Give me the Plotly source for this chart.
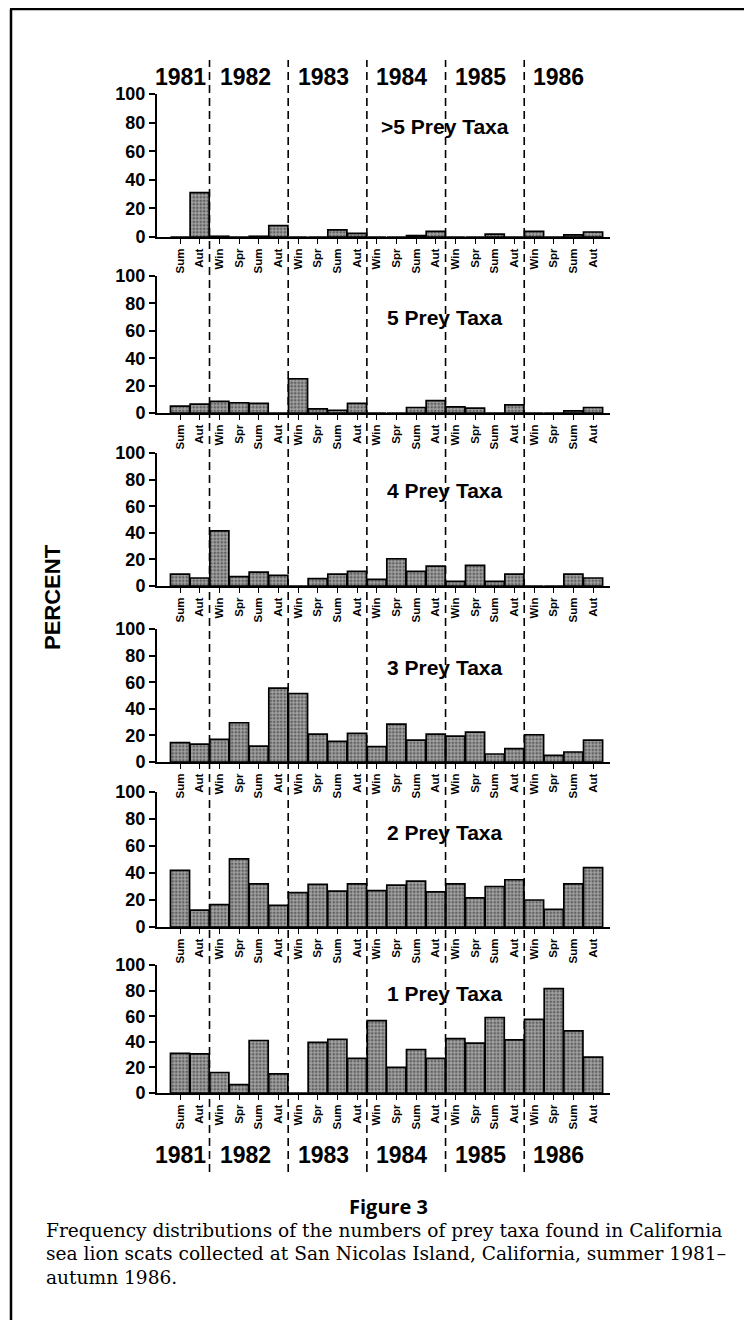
import plotly.graph_objects as go

W, H = 752, 1320

seasons = ["Sum", "Aut",
           "Win", "Spr", "Sum", "Aut",
           "Win", "Spr", "Sum", "Aut",
           "Win", "Spr", "Sum", "Aut",
           "Win", "Spr", "Sum", "Aut",
           "Win", "Spr", "Sum", "Aut"]
years = ["1981", "1982", "1983", "1984", "1985", "1986"]
panel_titles = [">5 Prey Taxa", "5 Prey Taxa", "4 Prey Taxa",
                "3 Prey Taxa", "2 Prey Taxa", "1 Prey Taxa"]

taxa_gt5 = [0, 31, 0.5, 0, 0.5, 8, 0, 0, 5, 2.5, 0, 0, 1, 4, 0, 0, 2, 0, 4, 0, 1.5, 3.5]
taxa_5 = [5, 6.5, 8.5, 7.5, 7, 0, 25, 3, 2, 7, 0, 0, 4, 9, 4.5, 3.5, 0, 6, 0, 0, 1.5, 4]
taxa_4 = [9, 6, 41.5, 7, 10.5, 8, 0, 5.5, 9, 11, 5, 20.5, 11, 15, 3.5, 15.5, 3.5, 9, 0, 0, 9, 6]
taxa_3 = [14.5, 13.5, 17, 29.5, 12, 55.5, 51.5, 21, 15.5, 21.5, 11.5, 28.5, 16.5, 21,
          19.5, 22.5, 6, 10, 20.5, 5, 7.5, 16.5]
taxa_2 = [42, 12.5, 16.5, 50.5, 32, 16, 25.5, 31.5, 26.5, 32, 27, 31, 34, 26,
          32, 21.5, 30, 35, 20, 13, 32, 44]
taxa_1 = [31, 30.5, 16, 6.5, 41, 15, 0, 39.5, 42, 27, 56.5, 20, 34, 27,
          42.5, 39, 59, 41.5, 57.5, 81.5, 48.5, 28]

series = [taxa_gt5, taxa_5, taxa_4, taxa_3, taxa_2, taxa_1]

# ---- layout geometry (target screen pixels) ----
X_OFF = 8.0                   # page body offset
Y_OFF, Y_SPAN = 8.0, 1320.0


def px(p):
    return (p - X_OFF) / W


def py(p):
    return 1 - (p - Y_OFF) / Y_SPAN


x_left_px, x_right_px = 157, 610
panel_px = [(94, 237), (276, 413), (453, 586), (629, 762), (792, 927), (965, 1093)]
title_y = [77, 70, 72, 71, 70, 78]
cat_px0, cat_step = 180.0, 19.67


def px2data(p):
    return (p - cat_px0) / cat_step


xr = [px2data(x_left_px), px2data(x_right_px)]
xs = list(range(len(seasons)))

BOLD = "Liberation Sans Narrow, Arial Narrow, Liberation Sans, Arial, sans-serif"

fig = go.Figure()
layout = dict(
    width=W, height=H,
    margin=dict(l=0, r=0, t=0, b=0, autoexpand=False),
    paper_bgcolor="white", plot_bgcolor="rgba(0,0,0,0)",
    showlegend=False,
    bargap=0.03,
)

annotations = []
shapes = []

for i, (vals, title) in enumerate(zip(series, panel_titles)):
    n = i + 1
    xa = "x" if n == 1 else f"x{n}"
    ya = "y" if n == 1 else f"y{n}"
    fig.add_trace(go.Bar(
        x=xs, y=vals, xaxis=xa, yaxis=ya, width=0.97,
        marker=dict(
            color="#a2a2a2",
            line=dict(color="black", width=1.7),
            pattern=dict(shape=".", fgcolor="#1e1e1e", size=3.5, solidity=0.45),
        ),
        hoverinfo="skip",
    ))
    top, bot = panel_px[i]
    layout[f"xaxis{'' if n == 1 else n}"] = dict(
        domain=[px(x_left_px), px(x_right_px)], anchor=ya, range=xr,
        tickmode="array", tickvals=xs, ticktext=seasons, tickangle=-90,
        ticks="outside", ticklen=5, tickwidth=1.2, tickcolor="black",
        showline=True, linecolor="black", linewidth=2, showgrid=False,
        zeroline=False, fixedrange=True, automargin=False,
        tickfont=dict(family=BOLD, size=11.5, color="black", weight="bold"),
    )
    layout[f"yaxis{'' if n == 1 else n}"] = dict(
        domain=[py(bot), py(top)], anchor=xa, range=[0, 100],
        tickmode="array", tickvals=[0, 20, 40, 60, 80, 100],
        ticks="outside", ticklen=6, tickwidth=1.5, tickcolor="black",
        showline=True, linecolor="black", linewidth=2, showgrid=False,
        zeroline=False, fixedrange=True, automargin=False,
        tickfont=dict(family=BOLD, size=18, color="black", weight="bold"),
    )
    annotations.append(dict(
        x=px2data(445), y=title_y[i], xref=xa, yref=ya, text=title,
        showarrow=False, xanchor="center", yanchor="middle",
        font=dict(family=BOLD, size=21, color="black", weight="bold"),
    ))

# year labels top and bottom
year_x_px = [180, 245, 323, 401, 480, 558]
for yr, xp in zip(years, year_x_px):
    for yp in (77, 1155):
        annotations.append(dict(
            x=px(xp), y=py(yp), xref="paper", yref="paper", text=yr,
            showarrow=False, xanchor="center", yanchor="middle",
            font=dict(family=BOLD, size=23, color="black", weight="bold"),
        ))

# dashed year separators
for xb in [1.5, 5.5, 9.5, 13.5, 17.5]:
    shapes.append(dict(
        type="line", xref="x", yref="paper", x0=xb, x1=xb,
        y0=py(1172), y1=py(60),
        line=dict(color="black", width=1.6, dash="8px,5px"), layer="above",
    ))

# frame lines
shapes.append(dict(type="line", xref="paper", yref="paper",
                   x0=px(11), x1=px(11), y0=-0.02, y1=py(9),
                   line=dict(color="black", width=2.5)))
shapes.append(dict(type="line", xref="paper", yref="paper",
                   x0=px(10), x1=1.02, y0=py(9), y1=py(9),
                   line=dict(color="black", width=2.5)))

annotations.append(dict(
    x=px(52), y=py(597), xref="paper", yref="paper", text="PERCENT",
    textangle=-90, showarrow=False, xanchor="center", yanchor="middle",
    font=dict(family="Liberation Sans, Arial, sans-serif", size=22,
              color="black", weight="bold"),
))

annotations.append(dict(
    x=px(388), y=py(1206), xref="paper", yref="paper", text="Figure 3",
    showarrow=False, xanchor="center", yanchor="middle",
    font=dict(family="Open Sans, sans-serif", size=20, color="black", weight="bold"),
))

caption_lines = [
    "Frequency distributions of the numbers of prey taxa found in California",
    "sea lion scats collected at San Nicolas Island, California, summer 1981\u2013",
    "autumn 1986.",
]
for k, line in enumerate(caption_lines):
    annotations.append(dict(
        x=px(44), y=py(1230 + 23.5 * k), xref="paper", yref="paper", text=line,
        showarrow=False, xanchor="left", yanchor="middle",
        font=dict(family="DejaVu Serif, serif", size=18.6, color="black"),
    ))

layout["annotations"] = annotations
layout["shapes"] = shapes
fig.update_layout(**layout)
fig.write_html("out.html")
